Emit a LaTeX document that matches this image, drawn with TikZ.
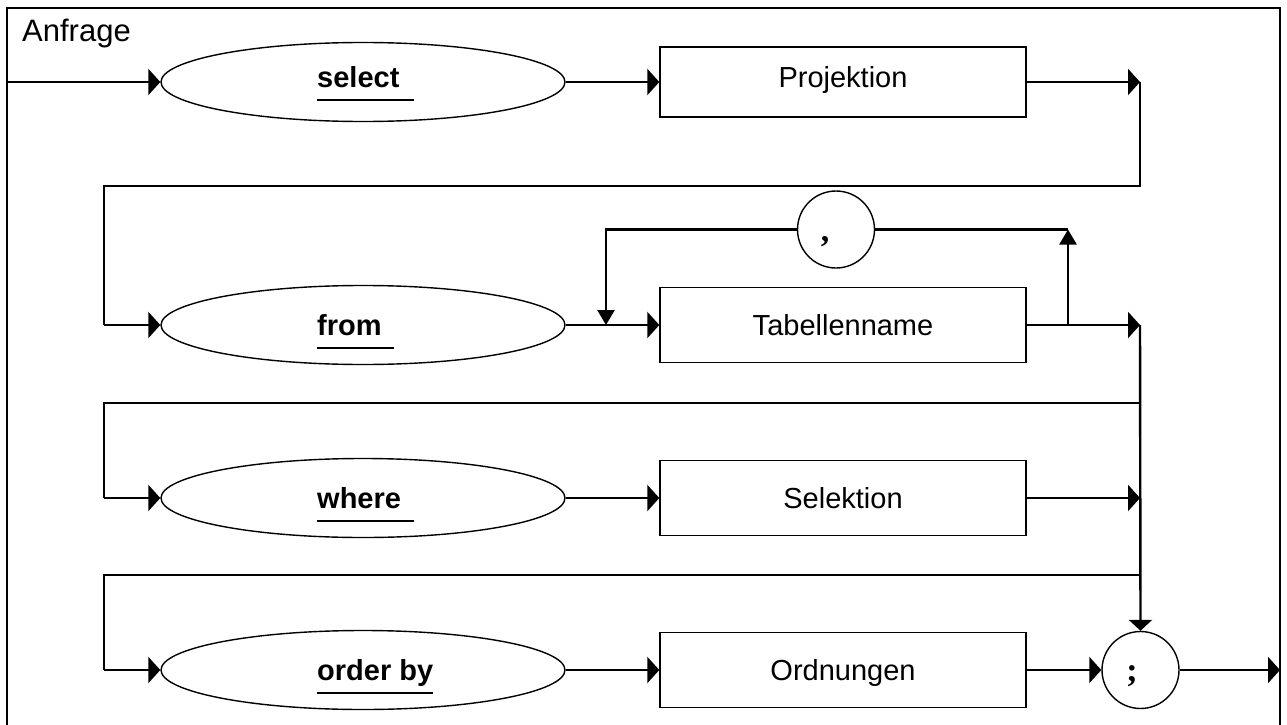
\documentclass[tikz,border=0pt]{standalone}
\usepackage{fontspec}
\setmainfont{Liberation Sans}
\newfontfamily\serifpunct{Liberation Serif}
\usetikzlibrary{shapes.geometric,arrows.meta}
\begin{document}
\begin{tikzpicture}[x=1pt,y=-1pt,
  thickline/.style={line width=2.4pt},
  thinline/.style={line width=1.4pt},
  harr/.style={-{Triangle[length=12pt,width=26pt]}},
  varr/.style={-{Triangle[length=15pt,width=17pt]}},
  kw/.style={ellipse,draw,line width=1.4pt,minimum width=404pt,minimum height=79pt,inner sep=0pt},
  boxnode/.style={rectangle,draw,line width=1.4pt,minimum width=366pt,minimum height=75pt,inner sep=0pt},
  punct/.style={circle,draw,line width=1.4pt,minimum size=77pt,inner sep=0pt},
  kwtext/.style={anchor=base west,inner sep=0pt,font=\fontsize{29}{34}\selectfont\bfseries},
  boxtext/.style={anchor=base,inner sep=0pt,font=\fontsize{29}{34}\selectfont},
  puncttext/.style={anchor=base,inner sep=0pt,font=\fontsize{34}{40}\selectfont\serifpunct\bfseries},
  uline/.style={line width=2.5pt}
]
\useasboundingbox (0,0) rectangle (1287,725);
\fill[white] (0,0) rectangle (1287,725);
% frame
\draw[line width=2.5pt] (7,735) -- (7,8) -- (1280,8) -- (1280,735);
\node[anchor=base west,inner sep=0pt,font=\fontsize{31}{36}\selectfont] (title) at (22,42) {Anfrage};

% coordinates
\coordinate (start) at (7,82);
\coordinate (r1e) at (1140,82);
\coordinate (r1c) at (1140,186);
\coordinate (l1c) at (104,186);
\coordinate (l2) at (104,325);
\coordinate (br) at (606,325);
\coordinate (brtop) at (606,229.5);
\coordinate (bl) at (1068,325);
\coordinate (bltop) at (1068,229.5);
\coordinate (r2e) at (1140,325);
\coordinate (r3c) at (1140,403);
\coordinate (l3c) at (104,403);
\coordinate (l3) at (104,498);
\coordinate (r3e) at (1140,498);
\coordinate (r4c) at (1140,575);
\coordinate (l4c) at (104,575);
\coordinate (l4) at (104,670);
\coordinate (endp) at (1280,670);

% row 1
\node[kw] (select) at (363,82) {};
\node[kwtext] (selectt) at (317,88) {select};
\draw[uline] (317,100) -- (414,100);
\node[boxnode,minimum height=70pt] (proj) at (843,82) {};
\node[boxtext] (projt) at (843,88) {Projektion};

% row 2
\node[kw] (from) at (363,325) {};
\node[kwtext] (fromt) at (317,335) {from};
\draw[uline] (317,348) -- (394,348);
\node[boxnode] (tab) at (843,325) {};
\node[boxtext] (tabt) at (843,335) {Tabellenname};
\node[punct] (comma) at (836,229.5) {};
\node[puncttext] (commat) at (825,241) {,};

% row 3
\node[kw] (where) at (363,498) {};
\node[kwtext] (wheret) at (317,508) {where};
\draw[uline] (317,521) -- (414,521);
\node[boxnode] (sel) at (843,498) {};
\node[boxtext] (selt) at (843,508) {Selektion};

% row 4
\node[kw] (order) at (363,670) {};
\node[kwtext] (ordert) at (317,680) {order by};
\draw[uline] (317,693) -- (433,693);
\node[boxnode] (ord) at (843,670) {};
\node[boxtext] (ordt) at (843,680) {Ordnungen};
\node[punct] (semi) at (1140.5,670) {};
\node[puncttext] (semit) at (1132,681) {;};

% connectors row 1
\draw[thickline,harr] (start) -- (select.west);
\draw[thickline,harr] (select.east) -- (proj.west);
\draw[thickline,harr] (proj.east) -- (r1e);
\draw[thinline] (r1e) -- (r1c) -- (l1c) -- (l2);
\draw[thickline,harr] (l2) -- (from.west);

% row 2
\draw[thickline,harr] (from.east) -- (tab.west);
\draw[thickline,harr] (tab.east) -- (r2e);
\draw[thickline,varr] (comma.west) -- (brtop) -- (br);
\draw[thickline] (comma.east) -- (bltop);
\draw[thickline,varr] (bl) -- (bltop);
\draw[thickline,-{Triangle[length=11pt,width=23pt]}] (r2e) -- (semi.north);

% row 3
\draw[thinline] (r3c) -- (l3c) -- (l3);
\draw[thickline,harr] (l3) -- (where.west);
\draw[thickline,harr] (where.east) -- (sel.west);
\draw[thickline,harr] (sel.east) -- (r3e);

% row 4
\draw[thinline] (r4c) -- (l4c) -- (l4);
\draw[thickline,harr] (l4) -- (order.west);
\draw[thickline,harr] (order.east) -- (ord.west);
\draw[thickline,harr] (ord.east) -- (semi.west);
\draw[thickline,harr] (semi.east) -- (endp);
\end{tikzpicture}
\end{document}
